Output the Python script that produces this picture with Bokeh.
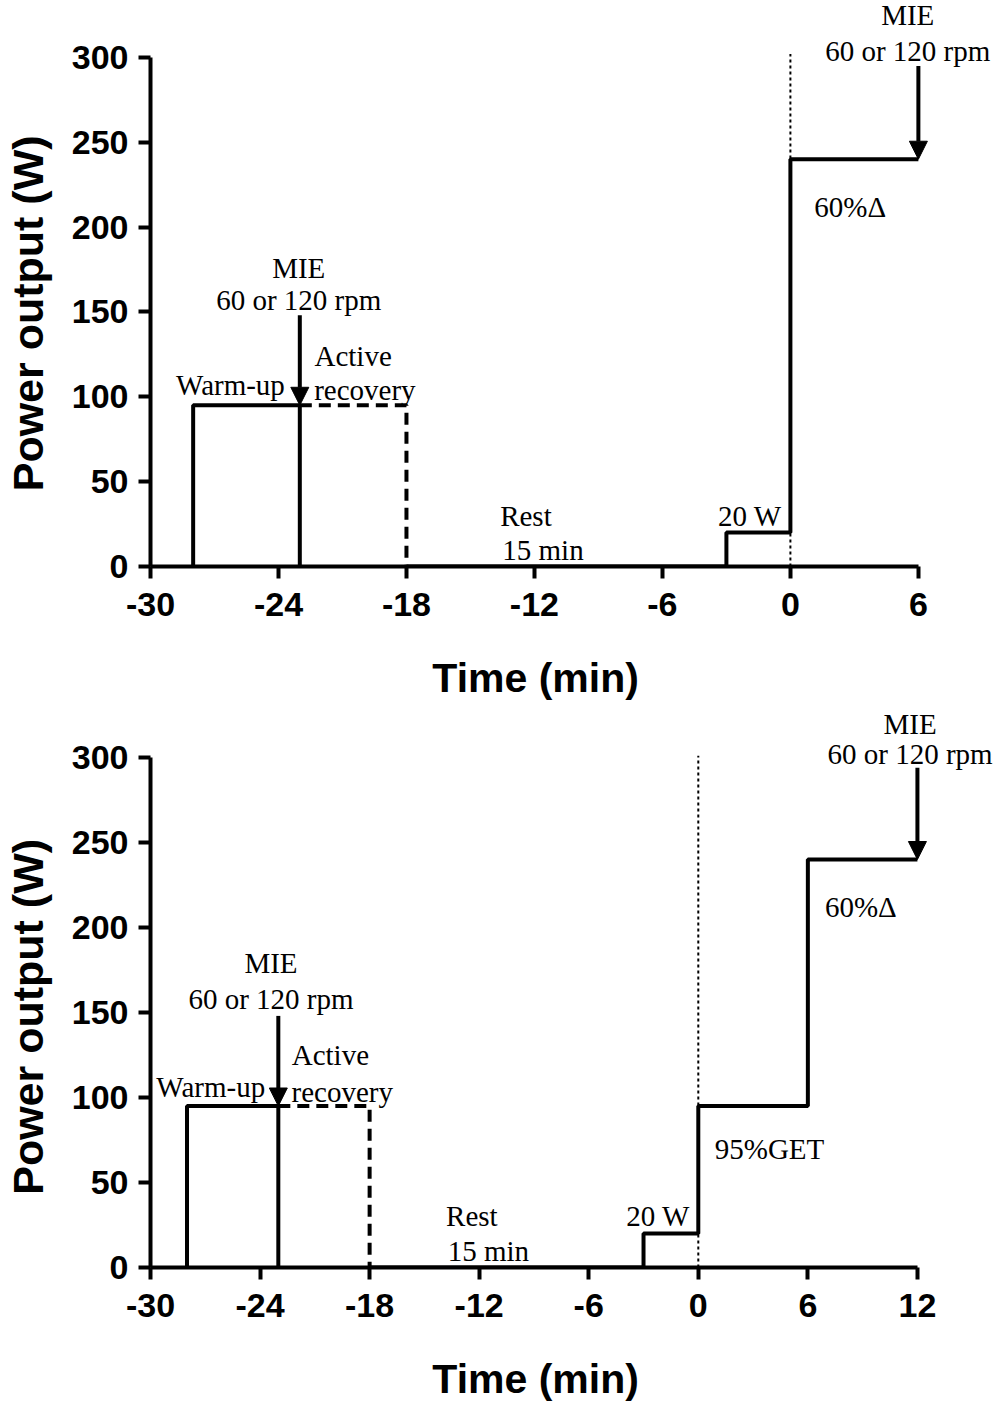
from bokeh.plotting import figure
from bokeh.models import ColumnDataSource, LabelSet, Arrow, NormalHead, FixedTicker, Range1d
from bokeh.layouts import column
from bokeh.core.properties import value
from bokeh.embed import file_html
from bokeh.resources import INLINE

# ---------------- data ----------------
x_ticks_1 = [-30, -24, -18, -12, -6, 0, 6]
x_tick_labels_1 = ["-30", "-24", "-18", "-12", "-6", "0", "6"]
x_ticks_2 = [-30, -24, -18, -12, -6, 0, 6, 12]
x_tick_labels_2 = ["-30", "-24", "-18", "-12", "-6", "0", "6", "12"]
y_ticks = [0, 50, 100, 150, 200, 250, 300]
x_title = "Time (min)"
y_title = "Power output (W)"

# panel A
warm_t1 = [-28, -28, -23, -23]
warm_w1 = [0, 95, 95, 0]
rec_t1 = [-23, -18, -18]
rec_w1 = [95, 95, 0]
test_t1 = [-18, -3, -3, 0, 0, 6]
test_w1 = [0, 0, 20, 20, 240, 240]
dot_t1 = [0, 0]
dot_w1 = [0, 302]
arrow_x1 = [-23, 6]
arrow_top1 = [148, 295]
arrow_tip1 = [95, 240]
lab_text1 = ["MIE", "60 or 120 rpm", "Warm-up", "Active", "recovery", "Rest", "15 min",
             "20 W", "60%Δ", "MIE", "60 or 120 rpm"]
lab_x1 = [-23.05, -23.05, -26.25, -20.5, -19.95, -12.4, -11.6, -1.9, 2.8, 5.5, 5.5]
lab_y1 = [176, 157, 107, 124, 104, 30, 9.5, 29.5, 212, 325, 304]

# panel B
warm_t2 = [-28, -28, -23, -23]
warm_w2 = [0, 95, 95, 0]
rec_t2 = [-23, -18, -18]
rec_w2 = [95, 95, 0]
test_t2 = [-18, -3, -3, 0, 0, 6, 6, 12]
test_w2 = [0, 0, 20, 20, 95, 95, 240, 240]
dot_t2 = [0, 0]
dot_w2 = [0, 301]
arrow_x2 = [-23, 12]
arrow_top2 = [148, 294]
arrow_tip2 = [95, 240]
lab_text2 = ["MIE", "60 or 120 rpm", "Warm-up", "Active", "recovery", "Rest", "15 min",
             "20 W", "95%GET", "60%Δ", "MIE", "60 or 120 rpm"]
lab_x2 = [-23.4, -23.4, -26.7, -20.15, -19.5, -12.4, -11.5, -2.2, 3.9, 8.9, 11.6, 11.6]
lab_y2 = [179, 158, 106, 125, 103, 30.5, 9.5, 30.5, 70, 212, 320, 302]

SANS = "Liberation Sans"
SERIF = "Liberation Serif"
NBSP = "\u00a0"


def make_panel(x_end, y_end, frame_h, bottom, x_ticks, x_labels, x_bound,
               warm_t, warm_w, rec_t, rec_w, test_t, test_w, dot_t, dot_w,
               ax, atop, atip, ltext, lx, ly):
    p = figure(width=1000, frame_width=850, frame_height=frame_h,
               x_range=Range1d(-30, x_end), y_range=Range1d(0, y_end),
               output_backend="svg", toolbar_location=None,
               min_border_left=150, min_border_right=0, min_border_top=0,
               min_border_bottom=bottom)
    p.outline_line_color = None
    p.grid.visible = False
    p.background_fill_color = "white"
    p.border_fill_color = "white"

    for axis in (p.xaxis[0], p.yaxis[0]):
        axis.axis_line_width = 4
        axis.axis_line_color = "black"
        axis.major_tick_line_width = 4
        axis.major_tick_line_color = "black"
        axis.major_tick_out = 12
        axis.major_tick_in = 0
        axis.minor_tick_line_color = None
        axis.major_label_text_font = SANS
        axis.major_label_text_font_style = "bold"
        axis.major_label_text_font_size = "34px"
        axis.major_label_text_color = "black"
        axis.axis_label_text_font = SANS
        axis.axis_label_text_font_style = "bold"
        axis.axis_label_text_color = "black"

    p.xaxis.axis_label_text_font_size = "41px"
    p.yaxis.axis_label_text_font_size = "43px"
    p.xaxis.ticker = FixedTicker(ticks=x_ticks)
    p.xaxis.major_label_overrides = {t: s for t, s in zip(x_ticks, x_labels)}
    p.yaxis.ticker = FixedTicker(ticks=y_ticks)
    p.xaxis.bounds = (-30, x_bound)
    p.yaxis.bounds = (0, 300)
    # titles are centred on the frame by Bokeh; trailing no-break spaces shift the
    # visible words so that they sit centred on the drawn axis span as in the reference
    p.xaxis.axis_label = x_title + NBSP * 7
    p.yaxis.axis_label = y_title + NBSP * 5
    p.xaxis.major_label_standoff = 14
    p.yaxis.major_label_standoff = 10
    p.xaxis.axis_label_standoff = 36
    p.yaxis.axis_label_standoff = 17

    p.line(dot_t, dot_w, line_color="black", line_width=2, line_dash="3 3")
    p.line(warm_t, warm_w, line_color="black", line_width=4)
    p.line(rec_t, rec_w, line_color="black", line_width=4, line_dash="12 7")
    p.line(test_t, test_w, line_color="black", line_width=4)

    asrc = ColumnDataSource(dict(x=ax, y0=atop, y1=atip))
    p.add_layout(Arrow(end=NormalHead(size=18, fill_color="black", line_color="black", line_width=1),
                       x_start="x", y_start="y0", x_end="x", y_end="y1",
                       line_width=4, line_color="black", source=asrc))

    lsrc = ColumnDataSource(dict(x=lx, y=ly, t=ltext))
    p.add_layout(LabelSet(x="x", y="y", text="t", source=lsrc,
                          text_font=value(SERIF), text_font_size="29px",
                          text_color="black", text_align="center",
                          text_baseline="middle"))
    return p


p1 = make_panel(-30 + 850 / 21.33, 566 / 1.697, 566, 140, x_ticks_1, x_tick_labels_1, 6,
                warm_t1, warm_w1, rec_t1, rec_w1, test_t1, test_w1, dot_t1, dot_w1,
                arrow_x1, arrow_top1, arrow_tip1, lab_text1, lab_x1, lab_y1)
p2 = make_panel(-30 + 850 / 18.26, 561 / 1.7, 561, 140, x_ticks_2, x_tick_labels_2, 12,
                warm_t2, warm_w2, rec_t2, rec_w2, test_t2, test_w2, dot_t2, dot_w2,
                arrow_x2, arrow_top2, arrow_tip2, lab_text2, lab_x2, lab_y2)

layout = column(p1, p2, spacing=0)
open("out.html", "w").write(file_html(layout, INLINE))
